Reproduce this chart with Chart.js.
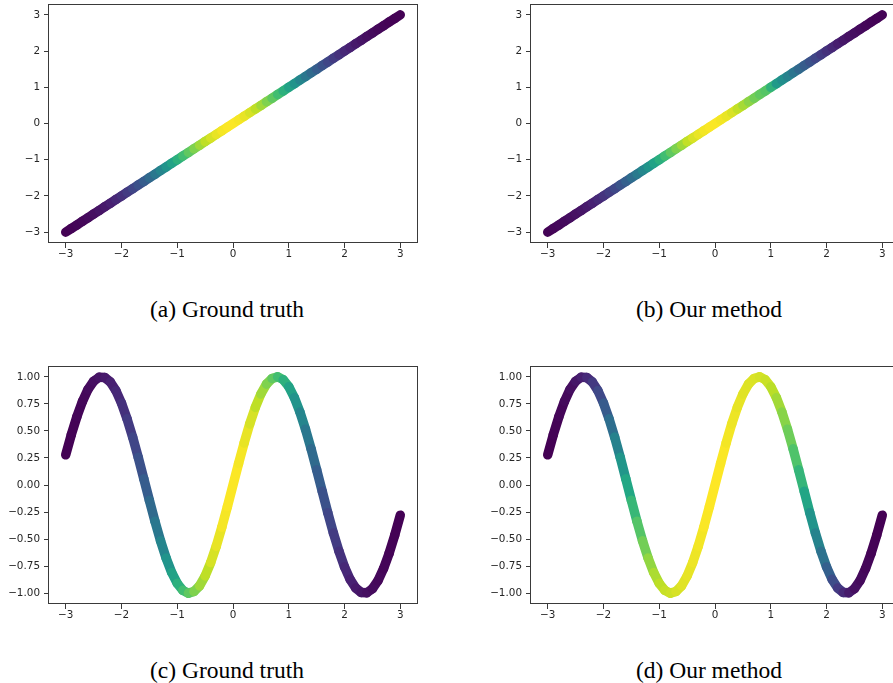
<!DOCTYPE html>
<html>
<head>
<meta charset="utf-8">
<script src="https://cdn.jsdelivr.net/npm/chart.js@4.4.1/dist/chart.umd.min.js"></script>
<style>
  html, body { margin: 0; padding: 0; background: #fff; overflow: hidden; }
  body { width: 893px; height: 683px; position: relative; }
  canvas { position: absolute; }
  .cap { position: absolute; font-family: "Liberation Serif", serif; font-size: 23.5px; color: #000; white-space: nowrap; transform: translate(-50%, -50%); }
</style>
</head>
<body>
<canvas id="chartA" width="440" height="265" style="left:0px;top:0px"></canvas>
<canvas id="chartB" width="440" height="265" style="left:482px;top:0px"></canvas>
<canvas id="chartC" width="440" height="264" style="left:0px;top:362px"></canvas>
<canvas id="chartD" width="440" height="264" style="left:482px;top:362px"></canvas>
<div class="cap" style="left:227px;top:309px">(a) Ground truth</div>
<div class="cap" style="left:709px;top:309px">(b) Our method</div>
<div class="cap" style="left:227px;top:670px">(c) Ground truth</div>
<div class="cap" style="left:709px;top:670px">(d) Our method</div>
<script>
// sample positions along x (shared by all four panels)
const xValues = [-3.0, -2.9, -2.8, -2.7, -2.6, -2.5, -2.4, -2.3, -2.2, -2.1,
  -2.0, -1.9, -1.8, -1.7, -1.6, -1.5, -1.4, -1.3, -1.2, -1.1,
  -1.0, -0.9, -0.8, -0.7, -0.6, -0.5, -0.4, -0.3, -0.2, -0.1,
  0.0, 0.1, 0.2, 0.3, 0.4, 0.5, 0.6, 0.7, 0.8, 0.9,
  1.0, 1.1, 1.2, 1.3, 1.4, 1.5, 1.6, 1.7, 1.8, 1.9,
  2.0, 2.1, 2.2, 2.3, 2.4, 2.5, 2.6, 2.7, 2.8, 2.9, 3.0];

// top row: straight line
const lineY = [-3.0, -2.9, -2.8, -2.7, -2.6, -2.5, -2.4, -2.3, -2.2, -2.1,
  -2.0, -1.9, -1.8, -1.7, -1.6, -1.5, -1.4, -1.3, -1.2, -1.1,
  -1.0, -0.9, -0.8, -0.7, -0.6, -0.5, -0.4, -0.3, -0.2, -0.1,
  0.0, 0.1, 0.2, 0.3, 0.4, 0.5, 0.6, 0.7, 0.8, 0.9,
  1.0, 1.1, 1.2, 1.3, 1.4, 1.5, 1.6, 1.7, 1.8, 1.9,
  2.0, 2.1, 2.2, 2.3, 2.4, 2.5, 2.6, 2.7, 2.8, 2.9, 3.0];

// bottom row: wave
const waveY = [0.279, 0.465, 0.631, 0.773, 0.884, 0.959, 0.996, 0.994, 0.952, 0.872,
  0.757, 0.612, 0.443, 0.256, 0.058, -0.141, -0.335, -0.516, -0.675, -0.808,
  -0.909, -0.974, -1.0, -0.985, -0.932, -0.841, -0.717, -0.565, -0.389, -0.199,
  0.0, 0.199, 0.389, 0.565, 0.717, 0.841, 0.932, 0.985, 1.0, 0.974,
  0.909, 0.808, 0.675, 0.516, 0.335, 0.141, -0.058, -0.256, -0.443, -0.612,
  -0.757, -0.872, -0.952, -0.994, -0.996, -0.959, -0.884, -0.773, -0.631, -0.465, -0.279];

// colour values per sample (0 = dark purple, 1 = yellow)
const truthC = [0.011, 0.015, 0.020, 0.026, 0.034, 0.044, 0.056, 0.071, 0.089, 0.110,
  0.135, 0.164, 0.198, 0.236, 0.278, 0.325, 0.375, 0.430, 0.487, 0.546,
  0.607, 0.667, 0.726, 0.783, 0.835, 0.882, 0.923, 0.956, 0.980, 0.995,
  1.0, 0.995, 0.980, 0.956, 0.923, 0.882, 0.835, 0.783, 0.726, 0.667,
  0.607, 0.546, 0.487, 0.430, 0.375, 0.325, 0.278, 0.236, 0.198, 0.164,
  0.135, 0.110, 0.089, 0.071, 0.056, 0.044, 0.034, 0.026, 0.020, 0.015, 0.011];

const oursLineC = [0.0, 0.01, 0.02, 0.02, 0.03, 0.04, 0.05, 0.06, 0.08, 0.10,
  0.13, 0.16, 0.19, 0.23, 0.27, 0.32, 0.37, 0.42, 0.47, 0.53,
  0.58, 0.64, 0.70, 0.76, 0.80, 0.86, 0.90, 0.93, 0.95, 0.96,
  0.97, 0.96, 0.95, 0.93, 0.90, 0.86, 0.82, 0.78, 0.74, 0.72,
  0.70, 0.55, 0.50, 0.45, 0.40, 0.35, 0.30, 0.26, 0.22, 0.18,
  0.15, 0.12, 0.09, 0.07, 0.05, 0.04, 0.03, 0.02, 0.01, 0.01, 0.0];

const oursWaveC = [0.0, 0.0, 0.01, 0.02, 0.03, 0.05, 0.07, 0.10, 0.14, 0.19,
  0.25, 0.32, 0.40, 0.48, 0.56, 0.63, 0.70, 0.76, 0.81, 0.86,
  0.89, 0.91, 0.92, 0.93, 0.95, 0.96, 0.97, 0.98, 0.99, 1.0,
  1.0, 1.0, 0.99, 0.98, 0.97, 0.96, 0.95, 0.95, 0.94, 0.93,
  0.91, 0.88, 0.84, 0.80, 0.75, 0.69, 0.62, 0.55, 0.48, 0.41,
  0.34, 0.27, 0.20, 0.14, 0.09, 0.05, 0.03, 0.02, 0.01, 0.0, 0.0];

// ticks
const xTicks = [-3, -2, -1, 0, 1, 2, 3];
const xTickLabels = ['\u22123', '\u22122', '\u22121', '0', '1', '2', '3'];
const lineYTicks = [-3, -2, -1, 0, 1, 2, 3];
const lineYTickLabels = ['\u22123', '\u22122', '\u22121', '0', '1', '2', '3'];
const waveYTicks = [-1, -0.75, -0.5, -0.25, 0, 0.25, 0.5, 0.75, 1];
const waveYTickLabels = ['\u22121.00', '\u22120.75', '\u22120.50', '\u22120.25', '0.00', '0.25', '0.50', '0.75', '1.00'];

// viridis colormap stops
const viridis = ['#440154', '#482475', '#414487', '#355f8d', '#2a788e', '#21918c',
  '#22a884', '#44bf70', '#7ad151', '#bddf26', '#fde725'];

function hexToRgb(h) {
  return [parseInt(h.slice(1, 3), 16), parseInt(h.slice(3, 5), 16), parseInt(h.slice(5, 7), 16)];
}

function cmap(t) {
  t = Math.max(0, Math.min(1, t));
  const pos = t * (viridis.length - 1);
  const i = Math.min(Math.floor(pos), viridis.length - 2);
  const f = pos - i;
  const a = hexToRgb(viridis[i]), b = hexToRgb(viridis[i + 1]);
  const c = a.map((v, k) => Math.round(v + (b[k] - v) * f));
  return `rgb(${c[0]},${c[1]},${c[2]})`;
}

// axes frame on all four sides, like matplotlib
const framePlugin = {
  id: 'frame',
  afterDraw(chart) {
    const { ctx, chartArea: a } = chart;
    ctx.save();
    ctx.strokeStyle = '#3a3a3a';
    ctx.lineWidth = 1;
    ctx.strokeRect(Math.round(a.left) - 0.5, Math.round(a.top) + 0.5,
      Math.round(a.right - a.left) + 1, Math.round(a.bottom - a.top) - 1);
    ctx.restore();
  }
};

function makeChart(id, yVals, cVals, yLim, yTicks, yTickLabels) {
  const cMin = Math.min(...cVals), cMax = Math.max(...cVals);
  const norm = v => (v - cMin) / (cMax - cMin);
  const tickFont = { family: 'DejaVu Sans', size: 10.4 };
  return new Chart(document.getElementById(id).getContext('2d'), {
    type: 'line',
    data: {
      datasets: [{
        data: xValues.map((x, i) => ({ x: x, y: yVals[i] })),
        borderWidth: 9.5,
        borderCapStyle: 'round',
        borderJoinStyle: 'round',
        pointRadius: 0,
        tension: 0,
        borderColor: cmap(0),
        segment: {
          borderColor: ctx => cmap(norm((cVals[ctx.p0DataIndex] + cVals[ctx.p1DataIndex]) / 2))
        }
      }]
    },
    options: {
      responsive: false,
      animation: false,
      layout: { padding: { top: 4, right: 23, left: 0, bottom: 0 } },
      plugins: { legend: { display: false }, tooltip: { enabled: false } },
      scales: {
        x: {
          type: 'linear',
          min: -3.3,
          max: 3.3,
          afterBuildTicks: s => { s.ticks = xTicks.map(v => ({ value: v })); },
          afterFit: s => { s.height = 22; s.paddingLeft = 0; s.paddingRight = 0; },
          ticks: {
            autoSkip: false,
            maxRotation: 0,
            padding: 0,
            color: '#262626',
            font: tickFont,
            callback: (v, i) => xTickLabels[i]
          },
          grid: { drawOnChartArea: false, tickLength: 5, tickColor: '#3a3a3a' },
          border: { display: false }
        },
        y: {
          type: 'linear',
          min: -yLim,
          max: yLim,
          afterBuildTicks: s => { s.ticks = yTicks.map(v => ({ value: v })); },
          afterFit: s => { s.width = 49; s.paddingTop = 0; s.paddingBottom = 0; },
          ticks: {
            autoSkip: false,
            padding: 4,
            color: '#262626',
            font: tickFont,
            callback: (v, i) => yTickLabels[i]
          },
          grid: { drawOnChartArea: false, tickLength: 5, tickColor: '#3a3a3a' },
          border: { display: false }
        }
      }
    },
    plugins: [framePlugin]
  });
}

makeChart('chartA', lineY, truthC, 3.3, lineYTicks, lineYTickLabels);
makeChart('chartB', lineY, oursLineC, 3.3, lineYTicks, lineYTickLabels);
makeChart('chartC', waveY, truthC, 1.1, waveYTicks, waveYTickLabels);
makeChart('chartD', waveY, oursWaveC, 1.1, waveYTicks, waveYTickLabels);
</script>
</body>
</html>
